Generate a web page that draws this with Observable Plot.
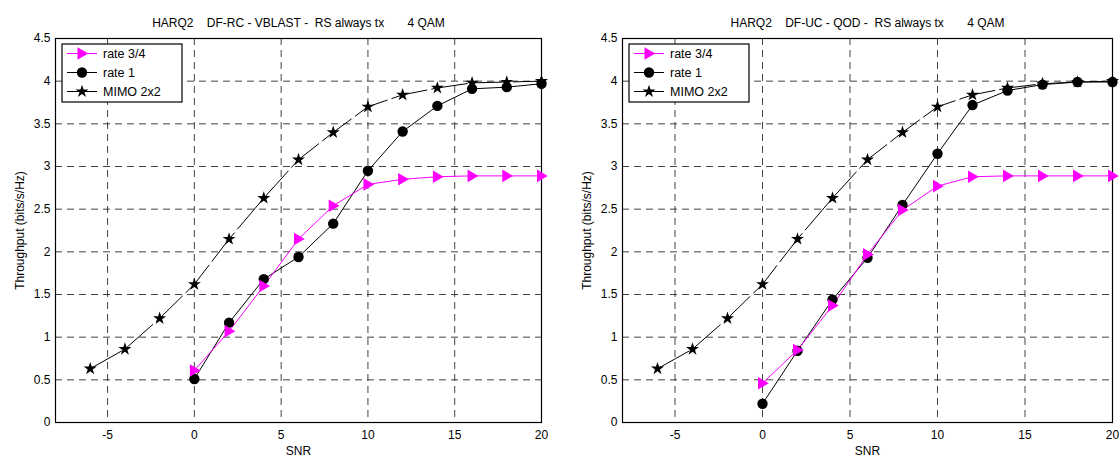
<!DOCTYPE html>
<html>
<head>
<meta charset="utf-8">
<script src="https://cdn.jsdelivr.net/npm/d3@7"></script>
<script src="https://cdn.jsdelivr.net/npm/@observablehq/plot@0.6"></script>
<style>
  html, body { margin: 0; padding: 0; background: #fff; }
  #wrap { position: relative; width: 1120px; height: 459px; }
  .chart { position: absolute; top: 0; }
  svg { font-family: "Liberation Sans", Arial, sans-serif; }
</style>
</head>
<body>
<div id="wrap"></div>
<script>
// ---- Data ----
const snrMimo = [-6, -4, -2, 0, 2, 4, 6, 8, 10, 12, 14, 16, 18, 20];
const snrRate = [0, 2, 4, 6, 8, 10, 12, 14, 16, 18, 20];

const leftRate34 = [0.61, 1.07, 1.60, 2.15, 2.54, 2.79, 2.85, 2.88, 2.89, 2.89, 2.89];
const leftRate1  = [0.51, 1.17, 1.68, 1.94, 2.33, 2.95, 3.41, 3.71, 3.91, 3.93, 3.97];
const leftMimo   = [0.63, 0.86, 1.22, 1.62, 2.15, 2.63, 3.08, 3.40, 3.70, 3.84, 3.92, 3.98, 3.99, 4.00];

const rightRate34 = [0.46, 0.85, 1.37, 1.97, 2.49, 2.77, 2.88, 2.89, 2.89, 2.89, 2.89];
const rightRate1  = [0.22, 0.84, 1.44, 1.93, 2.55, 3.15, 3.72, 3.89, 3.96, 3.99, 3.99];
const rightMimo   = [0.63, 0.86, 1.22, 1.62, 2.15, 2.63, 3.08, 3.40, 3.70, 3.84, 3.92, 3.97, 3.99, 4.00];

const xTicks = [-5, 0, 5, 10, 15, 20];
const yTicks = [0, 0.5, 1, 1.5, 2, 2.5, 3, 3.5, 4, 4.5];
const xGrid = [-5, 0, 5, 10, 15];
const yGrid = [0.5, 1, 1.5, 2, 2.5, 3, 3.5, 4];

const seriesNames = ["rate 3/4", "rate 1", "MIMO 2x2"];
const leftTitle  = "HARQ2    DF-RC - VBLAST -  RS always tx       4 QAM";
const rightTitle = "HARQ2    DF-UC - QOD -  RS always tx       4 QAM";
const xLabel = "SNR";
const yLabel = "Throughput (bits/s/Hz)";

// ---- Custom right-pointing triangle symbol ----
const triRight = {
  draw(context, size) {
    const r = Math.sqrt(size / Math.PI);
    context.moveTo(r * 1.05, 0);
    context.lineTo(-r * 0.75, -r * 1.05);
    context.lineTo(-r * 0.75, r * 1.05);
    context.closePath();
  }
};

const MAGENTA = "#ff00ff";
const FONT = "'Liberation Sans', Arial, sans-serif";
const STAR_R = 4.1;

function makeChart(title, r34, r1, mimo, ml, mr, labelOffset) {
  const d34 = snrRate.map((x, i) => ({x, y: r34[i]}));
  const d1 = snrRate.map((x, i) => ({x, y: r1[i]}));
  const dm = snrMimo.map((x, i) => ({x, y: mimo[i]}));
  const plot = Plot.plot({
    width: 560,
    height: 459,
    marginLeft: ml,
    marginRight: mr,
    marginTop: 38,
    marginBottom: 37,
    style: {fontFamily: FONT, fontSize: "12px", color: "black", background: "white"},
    x: {domain: [-8, 20], ticks: xTicks, tickSize: 0, tickPadding: 8, tickFormat: d => String(d), label: xLabel, labelAnchor: "center", labelOffset: 32, labelArrow: "none"},
    y: {domain: [0, 4.5], ticks: yTicks, tickSize: 0, tickPadding: 5, tickFormat: d => String(d), label: yLabel, labelAnchor: "center", labelOffset: labelOffset, labelArrow: "none"},
    marks: [
      Plot.ruleX(xGrid, {stroke: "#222", strokeWidth: 1, strokeDasharray: "7,5", strokeOpacity: 0.85}),
      Plot.ruleY(yGrid, {stroke: "#222", strokeWidth: 1, strokeDasharray: "7,5", strokeOpacity: 0.85}),
      Plot.frame({stroke: "black", strokeWidth: 1.2}),
      Plot.line(dm, {x: "x", y: "y", stroke: "black", strokeWidth: 1, strokeDasharray: "36,5"}),
      Plot.line(d1, {x: "x", y: "y", stroke: "black", strokeWidth: 1}),
      Plot.line(d34, {x: "x", y: "y", stroke: MAGENTA, strokeWidth: 1}),
      Plot.dot(dm, {x: "x", y: "y", symbol: "star", r: STAR_R, fill: "black", stroke: "none"}),
      Plot.dot(d1, {x: "x", y: "y", symbol: "circle", r: 5.2, fill: "black", stroke: "none"}),
      Plot.dot(d34, {x: "x", y: "y", symbol: triRight, r: 6, fill: MAGENTA, stroke: "none"}),
      Plot.text([title], {frameAnchor: "top", dy: -20, text: d => d.replace(/ /g, "\u00a0"), fontSize: 12, fill: "black"})
    ]
  });
  // Legend box (decoration only)
  const svg = d3.select(plot);
  const g = svg.append("g").attr("transform", `translate(${ml + 7},${44})`)
    .attr("text-anchor", "start").attr("font-family", FONT);
  const bw = 120, bh = 58;
  g.append("rect").attr("width", bw).attr("height", bh).attr("fill", "white").attr("stroke", "black").attr("stroke-width", 1.2);
  const sym = [
    {color: MAGENTA, type: triRight, area: 6 * 6 * Math.PI},
    {color: "black", type: d3.symbolCircle, area: 5.2 * 5.2 * Math.PI},
    {color: "black", type: d3.symbolStar, area: STAR_R * STAR_R * Math.PI}
  ];
  seriesNames.forEach((name, i) => {
    const cy = 9.5 + i * 19;
    g.append("line").attr("x1", 5).attr("x2", 35).attr("y1", cy).attr("y2", cy)
      .attr("stroke", sym[i].color).attr("stroke-width", 1);
    g.append("path").attr("d", d3.symbol(sym[i].type, sym[i].area)())
      .attr("transform", `translate(20,${cy})`).attr("fill", sym[i].color);
    g.append("text").attr("x", 41).attr("y", cy).attr("dy", "0.35em")
      .attr("font-size", 12.5).attr("fill", "black").text(name);
  });
  return plot;
}

const wrap = document.getElementById("wrap");
const left = makeChart(leftTitle, leftRate34, leftRate1, leftMimo, 55, 19, 40);
const right = makeChart(rightTitle, rightRate34, rightRate1, rightMimo, 62, 8, 40);
left.classList.add("chart"); left.style.left = "0px";
right.classList.add("chart"); right.style.left = "560px";
wrap.appendChild(left);
wrap.appendChild(right);
</script>
</body>
</html>
